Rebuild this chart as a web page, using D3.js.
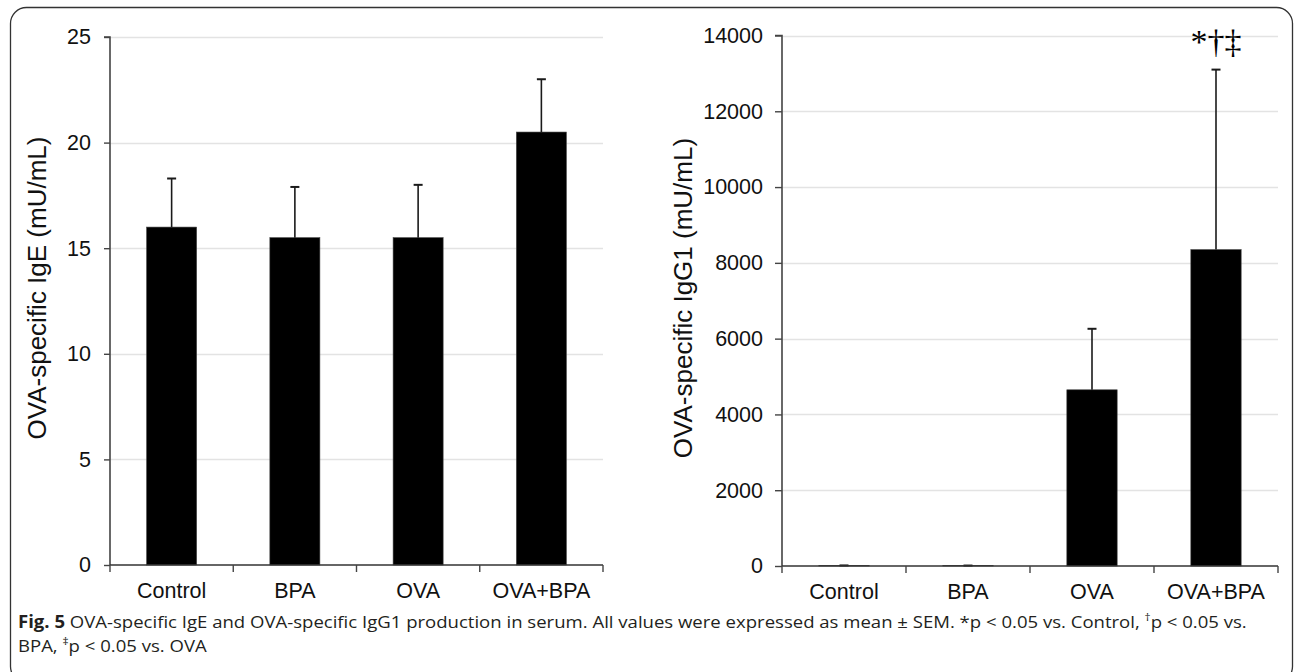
<!DOCTYPE html>
<html><head><meta charset="utf-8">
<script src="https://cdn.jsdelivr.net/npm/d3@7"></script>
<style>body{margin:0;background:#fff} svg{display:block}</style>
</head><body>
<svg id="c" width="1295" height="672"></svg>
<script>
const categories = ["Control", "BPA", "OVA", "OVA+BPA"];
const igeMean = [16.0, 15.5, 15.5, 20.5];
const igeSem = [2.3, 2.4, 2.5, 2.5];
const igg1Mean = [10, 8, 4650, 8350];
const igg1Sem = [5, 4, 1610, 4750];
const igeTicks = [0, 5, 10, 15, 20, 25];
const igg1Ticks = [0, 2000, 4000, 6000, 8000, 10000, 12000, 14000];
const igg1Sig = ["", "", "", "*\u2020\u2021"];
const captionBold = "Fig. 5";
const captionLine1 = "  OVA-specific IgE and OVA-specific IgG1 production in serum. All values were expressed as mean \u00b1 SEM. *p < 0.05 vs. Control, ";
const captionLine1b = "p < 0.05 vs.";
const captionLine2a = "BPA, ";
const captionLine2b = "p < 0.05 vs. OVA";

const svg = d3.select("#c");
const FONT = "'Liberation Sans', Arial, sans-serif";

// frame
svg.append("rect").attr("x", 10.5).attr("y", 7.5).attr("width", 1282).attr("height", 675)
  .attr("rx", 16).attr("fill", "none").attr("stroke", "#333").attr("stroke-width", 1.3);

function panel(cfg) {
  const g = svg.append("g");
  const xb = d3.scaleBand().domain(categories).range(cfg.xr).paddingInner(0.594).paddingOuter(0.297);
  const xa = d3.scaleBand().domain(categories).range(cfg.xr).padding(0);
  const y = d3.scaleLinear().domain([0, cfg.max]).range(cfg.yr);

  // gridlines
  g.append("g").selectAll("line").data(cfg.ticks.filter(t => t > 0)).join("line")
    .attr("x1", cfg.xr[0]).attr("x2", cfg.xr[1])
    .attr("y1", d => Math.round(y(d)) + 0.5).attr("y2", d => Math.round(y(d)) + 0.5)
    .attr("stroke", "#e3e3e3").attr("stroke-width", 1.5);

  // bars
  g.append("g").selectAll("rect").data(cfg.mean).join("rect")
    .attr("x", (d, i) => xb(categories[i])).attr("width", xb.bandwidth())
    .attr("y", d => y(d)).attr("height", d => y(0) - y(d))
    .attr("fill", "#000").attr("stroke", "#444").attr("stroke-width", 0.6);

  // error bars
  const eb = g.append("g").attr("stroke", "#1a1a1a").attr("stroke-width", 1.6);
  cfg.mean.forEach((m, i) => {
    const cx = xb(categories[i]) + xb.bandwidth() / 2;
    const top = y(m + cfg.sem[i]);
    eb.append("line").attr("x1", cx).attr("x2", cx).attr("y1", y(m)).attr("y2", top);
    eb.append("line").attr("x1", cx - 4.5).attr("x2", cx + 4.5).attr("y1", top).attr("y2", top).attr("stroke-width", 2);
  });

  // y axis
  const ya = d3.axisLeft(y).tickValues(cfg.ticks).tickSize(cfg.tick).tickPadding(cfg.pad).tickFormat(d3.format("d"));
  const yg = g.append("g").attr("transform", `translate(${cfg.xr[0]},0)`).call(ya);
  yg.select(".domain").attr("stroke", "#444").attr("stroke-width", 1.6).attr("d", `M${-cfg.tick},${cfg.yr[1]}H0V${cfg.yr[0]}`);
  yg.selectAll(".tick line").attr("stroke", "#444").attr("stroke-width", 1.4);
  yg.selectAll("text").attr("font-family", FONT).attr("font-size", 21.5).attr("fill", "#111");

  // x axis
  const xaxis = d3.axisBottom(xa).tickSize(0).tickPadding(0);
  const xg = g.append("g").attr("transform", `translate(0,${cfg.yr[0]})`).call(xaxis);
  xg.select(".domain").attr("stroke", "#333").attr("stroke-width", 1.6).attr("d", `M${cfg.xr[0]},0H${cfg.xr[1]}`);
  xg.selectAll("text").attr("font-family", FONT).attr("font-size", 21.5).attr("fill", "#111").attr("dy", null).attr("y", 33);
  const bounds = categories.map(c => xa(c)).concat([cfg.xr[1]]);
  xg.append("g").selectAll("line").data(bounds).join("line")
    .attr("x1", d => d).attr("x2", d => d).attr("y1", 0).attr("y2", 7)
    .attr("stroke", "#444").attr("stroke-width", 1.4);

  // title
  g.append("text").attr("transform", `translate(${cfg.titleX},${cfg.titleY}) rotate(-90)`)
    .attr("text-anchor", "middle").attr("dominant-baseline", "central")
    .attr("font-family", FONT).attr("font-size", 26).attr("fill", "#111").text(cfg.title);

  if (cfg.sig) {
    g.append("g").selectAll("text").data(cfg.sig).join("text")
      .attr("x", (d, i) => xb(categories[i]) + xb.bandwidth() / 2)
      .attr("y", (d, i) => y(cfg.mean[i] + cfg.sem[i]) - 17)
      .attr("text-anchor", "middle").attr("font-family", "'Liberation Serif', 'Times New Roman', serif")
      .attr("font-size", 34).attr("fill", "#000").text(d => d);
  }
}

panel({ xr: [110, 603], yr: [565, 37], max: 25, ticks: igeTicks, mean: igeMean, sem: igeSem,
  tick: 6, pad: 13, title: "OVA-specific IgE (mU/mL)", titleX: 37, titleY: 288 });
panel({ xr: [782, 1278], yr: [566, 35.5], max: 14000, ticks: igg1Ticks, mean: igg1Mean, sem: igg1Sem,
  tick: 7, pad: 12, title: "OVA-specific IgG1 (mU/mL)", titleX: 683, titleY: 298, sig: igg1Sig });

// caption
const CF = "'Open Sans', 'Noto Sans', sans-serif";
const cap = svg.append("g");
const t1 = cap.append("text").attr("x", 18).attr("y", 628).attr("font-family", CF).attr("font-size", 17).attr("fill", "#231f20");
t1.append("tspan").attr("font-weight", "bold").text(captionBold);
t1.append("tspan").text(captionLine1);
t1.append("tspan").attr("font-size", 11).attr("dy", -7).text("\u2020");
t1.append("tspan").attr("dy", 7).text(captionLine1b);
const t2 = cap.append("text").attr("x", 18).attr("y", 652).attr("font-family", CF).attr("font-size", 17).attr("fill", "#231f20");
t2.append("tspan").text(captionLine2a);
t2.append("tspan").attr("font-size", 11).attr("dy", -7).text("\u2021");
t2.append("tspan").attr("dy", 7).text(captionLine2b);
const w1 = t1.node().getComputedTextLength();
const sx = (1248 - 18) / w1;
t1.attr("transform", `translate(18,0) scale(${sx},1) translate(-18,0)`);
t2.attr("transform", `translate(18,0) scale(${sx},1) translate(-18,0)`);
</script>
</body></html>
